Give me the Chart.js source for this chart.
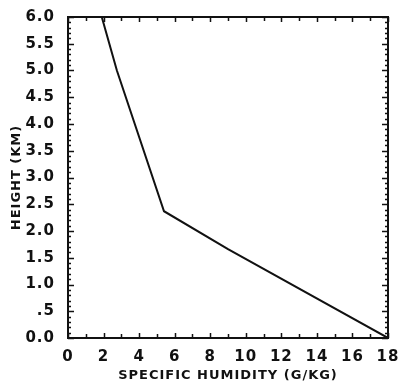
<!DOCTYPE html>
<html>
<head>
<meta charset="utf-8">
<script src="https://cdn.jsdelivr.net/npm/chart.js@4/dist/chart.umd.min.js"></script>
<style>
html,body{margin:0;padding:0;background:#fff;}
#wrap{width:399px;height:383px;position:relative;}
</style>
</head>
<body>
<div id="wrap"><canvas id="c" width="399" height="383"></canvas></div>
<script>
// Data
const humidity = [1.9, 2.75, 5.4, 9.0, 18.0];   // g/kg
const heightKm = [6.0, 5.0, 2.37, 1.66, 0.0];   // km
const xTitle = 'SPECIFIC HUMIDITY (G/KG)';
const yTitle = 'HEIGHT (KM)';

const ink = '#111';
const fontFamily = '"DejaVu Sans", sans-serif';

const points = humidity.map((h, i) => ({x: h, y: heightKm[i]}));

function isMultiple(v, step) {
  const r = v / step;
  return Math.abs(r - Math.round(r)) < 1e-6;
}

const frameAndTicks = {
  id: 'frameAndTicks',
  beforeLayout(chart) { chart.ctx.letterSpacing = '1px'; },
  beforeDraw(chart) { chart.ctx.letterSpacing = '1px'; },
  afterDatasetsDraw(chart) {
    const ctx = chart.ctx;
    const {left, right, top, bottom} = chart.chartArea;
    const xs = chart.scales.x, ys = chart.scales.y;
    ctx.save();
    ctx.strokeStyle = ink;
    ctx.lineWidth = 1.5;
    ctx.beginPath();
    xs.ticks.forEach(t => {
      const px = Math.round(xs.getPixelForValue(t.value)) + 0.5;
      const len = isMultiple(t.value, 2) ? 5 : 4;
      ctx.moveTo(px, bottom); ctx.lineTo(px, bottom - len);
      ctx.moveTo(px, top); ctx.lineTo(px, top + len);
    });
    ys.ticks.forEach(t => {
      const py = Math.round(ys.getPixelForValue(t.value)) + 0.5;
      const len = isMultiple(t.value, 0.5) ? 6 : 3;
      ctx.moveTo(left, py); ctx.lineTo(left + len, py);
      ctx.moveTo(right, py); ctx.lineTo(right - len, py);
    });
    ctx.stroke();
    ctx.lineWidth = 2;
    ctx.strokeRect(left, top, right - left, bottom - top);
    ctx.restore();
  }
};

new Chart(document.getElementById('c'), {
  type: 'scatter',
  data: {
    datasets: [{
      data: points,
      showLine: true,
      borderColor: ink,
      borderWidth: 2,
      pointRadius: 0,
      fill: false,
      tension: 0
    }]
  },
  options: {
    responsive: false,
    animation: false,
    events: [],
    layout: {padding: {left: 0, right: 11, top: 17, bottom: 0}},
    plugins: {legend: {display: false}, tooltip: {enabled: false}},
    scales: {
      x: {
        type: 'linear',
        min: 0, max: 18,
        grid: {display: false},
        border: {display: false},
        afterFit(s) { s.height = 45; s.paddingLeft = 0; s.paddingRight = 0; },
        ticks: {
          stepSize: 1,
          autoSkip: false,
          maxRotation: 0,
          padding: 2,
          color: ink,
          font: {family: fontFamily, size: 15, weight: 'bold'},
          callback: v => isMultiple(v, 2) ? String(Math.round(v)) : ''
        },
        title: {
          display: true, text: xTitle, color: ink,
          font: {family: fontFamily, size: 13, weight: 'bold'},
          padding: {top: 0, bottom: 0}
        }
      },
      y: {
        type: 'linear',
        min: 0, max: 6,
        grid: {display: false},
        border: {display: false},
        afterFit(s) { s.width = 68; s.paddingTop = 0; s.paddingBottom = 0; },
        ticks: {
          stepSize: 0.1,
          maxTicksLimit: 100,
          autoSkip: false,
          padding: 5,
          color: ink,
          font: {family: fontFamily, size: 15, weight: 'bold'},
          callback: v => {
            if (!isMultiple(v, 0.5)) return '';
            const s = (Math.round(v * 10) / 10).toFixed(1);
            return s === '0.5' ? '.5' : s;
          }
        },
        title: {
          display: true, text: yTitle, color: ink,
          font: {family: fontFamily, size: 13, weight: 'bold'},
          padding: {top: 9, bottom: 0}
        }
      }
    }
  },
  plugins: [frameAndTicks]
});
</script>
</body>
</html>
